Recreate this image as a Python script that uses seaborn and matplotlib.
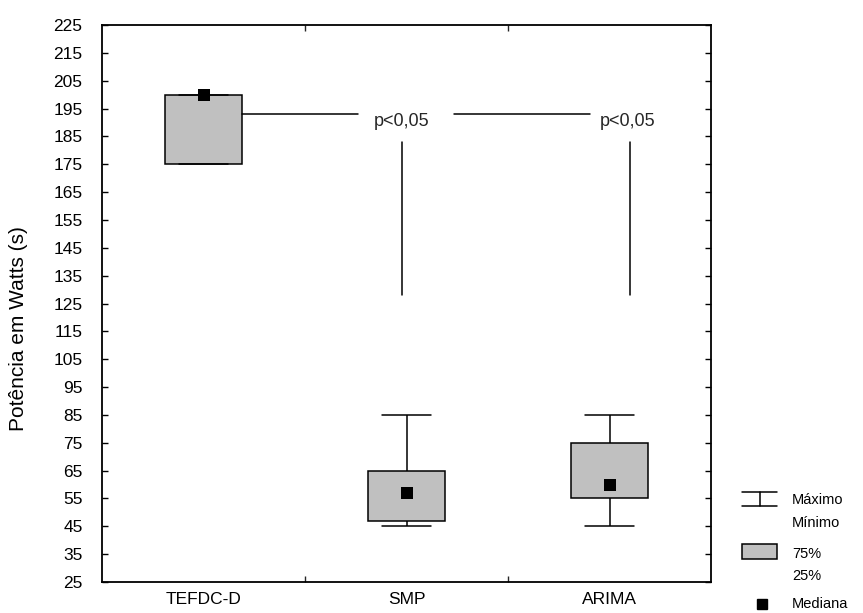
import matplotlib
matplotlib.use("Agg")
import matplotlib.pyplot as plt
import pandas as pd
import seaborn as sns
from matplotlib.lines import Line2D
from matplotlib.patches import Rectangle
from matplotlib.transforms import Affine2D

# Five-number summaries per forecasting model (power in watts)
modelos = ["TEFDC-D", "SMP", "ARIMA"]
minimo = [175, 45, 45]
q25 = [175, 47, 55]
mediana = [200, 57, 60]
q75 = [200, 65, 75]
maximo = [200, 85, 85]
yticks = list(range(25, 226, 10))
rotulo_p = "p<0,05"

# Long-form rows: the 25/50/75 percentiles of these five values are q25/mediana/q75
linhas = []
for m, a, b, c, d, e in zip(modelos, minimo, q25, mediana, q75, maximo):
    for v in (a, b, c, d, e):
        linhas.append({"modelo": m, "potencia": v})
df = pd.DataFrame(linhas)
df_med = pd.DataFrame({"modelo": modelos, "potencia": mediana})

sns.set_theme(style="white")
plt.rcParams["font.family"] = ["Liberation Sans", "DejaVu Sans"]

W, H = 863, 613
fig = plt.figure(figsize=(W / 100, H / 100), dpi=100)
ax = fig.add_axes([102 / W, 1 - 582 / H, 609 / W, 557 / H])

sns.boxplot(data=df, x="modelo", y="potencia", order=modelos, whis=(0, 100),
            width=0.38, color="#c0c0c0", saturation=1, linecolor="black",
            linewidth=1.1, medianprops={"visible": False}, showfliers=False, ax=ax)

# wider whisker caps
for cont in ax.containers:
    for cap in getattr(cont, "caps", []):
        xs = cap.get_xdata()
        c = (xs[0] + xs[-1]) / 2
        cap.set_xdata([c - 0.122, c + 0.122])

sns.stripplot(data=df_med, x="modelo", y="potencia", order=modelos, jitter=False,
              marker="s", size=8.5, color="black", linewidth=0, zorder=5, ax=ax)

# significance annotations
lw = 1.1
ax.plot([0.19, 0.762], [193, 193], color="black", lw=lw)
ax.text(0.975, 188.7, rotulo_p, ha="center", va="baseline", fontsize=13)
ax.plot([0.98, 0.98], [183, 128], color="black", lw=lw)
ax.plot([1.233, 1.906], [193, 193], color="black", lw=lw)
ax.text(2.09, 188.7, rotulo_p, ha="center", va="baseline", fontsize=13)
ax.plot([2.10, 2.10], [183, 128], color="black", lw=lw)

ax.set_xlim(-0.5, 2.5)
ax.set_ylim(25, 225)
ax.set_yticks(yticks)
ax.tick_params(axis="y", direction="in", length=4, width=1, left=True, right=True,
               labelsize=12.5, pad=14, colors="black")
ax.set_xticks([0.5, 1.5], labels=["", ""])
ax.set_xticks([0, 1, 2], labels=modelos, minor=True)
ax.tick_params(axis="x", which="major", direction="in", length=4, width=1,
               bottom=True, top=True)
ax.tick_params(axis="x", which="minor", length=0, pad=7, labelsize=12.5,
               colors="black")
ax.set_xlabel("")
ax.set_ylabel("Potência em Watts (s)", fontsize=15, va="center", color="black")
ax.yaxis.set_label_coords((19 - 102) / 609, 1 - (328 - 24) / 558)
for s in ax.spines.values():
    s.set_color("black")
    s.set_linewidth(1.3)

# legend drawn in figure pixel coordinates
pix = Affine2D().scale(1 / W, -1 / H).translate(0, 1) + fig.transFigure
fig.add_artist(Line2D([742, 777], [492, 492], transform=pix, color="black", lw=lw))
fig.add_artist(Line2D([742, 777], [506, 506], transform=pix, color="black", lw=lw))
fig.add_artist(Line2D([759.5, 759.5], [492, 506], transform=pix, color="black", lw=lw))
fig.add_artist(Rectangle((742, 544), 35, 15, transform=pix, facecolor="#c0c0c0",
                         edgecolor="black", lw=lw))
fig.add_artist(Line2D([762], [604], transform=pix, marker="s", markersize=7,
                      color="black", linestyle="none"))
for txt, yy in [("Máximo", 500), ("Mínimo", 523), ("75%", 554), ("25%", 576),
                ("Mediana", 604)]:
    fig.text(792, yy, txt, transform=pix, va="center", ha="left", fontsize=10.5,
             color="black")

fig.savefig("out.png", dpi=100, facecolor="white")
